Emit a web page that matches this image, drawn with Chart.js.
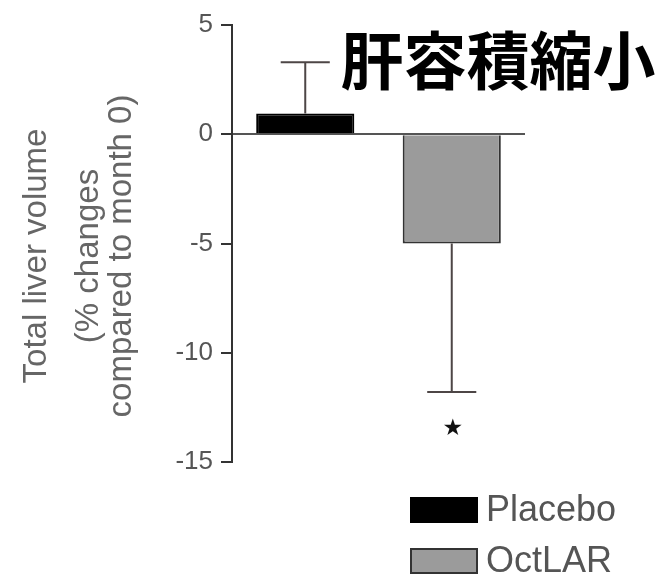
<!DOCTYPE html>
<html>
<head>
<meta charset="utf-8">
<script src="https://cdn.jsdelivr.net/npm/chart.js@4/dist/chart.umd.min.js"></script>
<style>
  body { margin: 0; background: #fff; }
  #wrap { width: 666px; height: 578px; }
</style>
</head>
<body>
<div id="wrap"><canvas id="chart1" width="666" height="578"></canvas></div>
<script>
// data
const groups = ['Placebo', 'OctLAR'];
const meanChange = [0.95, -5.0];
const errSize = [2.35, 6.8];          // one-sided error bars (away from zero)
const barColors = ['#000000', '#9b9b9b'];
const barBorders = ['#000000', '#333333'];
const yTicks = [5, 0, -5, -10, -15];
const yTitleLines = ['Total liver volume', '(% changes', 'compared to month 0)'];
const chartTitle = '肝容積縮小';
const starMark = { index: 1, value: -13.5 };

// error bars, star, legend and texts
const extras = {
    id: 'extras',
    afterDatasetsDraw(chart) {
        const ctx = chart.ctx;
        const y = chart.scales.y;
        const meta = chart.getDatasetMeta(0);
        ctx.save();
        ctx.strokeStyle = '#4d4646';
        ctx.lineWidth = 2;
        meta.data.forEach((bar, i) => {
            const v = meanChange[i];
            const end = v >= 0 ? v + errSize[i] : v - errSize[i];
            const y0 = y.getPixelForValue(v);
            const y1 = y.getPixelForValue(end);
            const half = bar.width * 0.25;
            ctx.beginPath();
            ctx.moveTo(bar.x, y0);
            ctx.lineTo(bar.x, y1);
            ctx.moveTo(bar.x - half, y1);
            ctx.lineTo(bar.x + half, y1);
            ctx.stroke();
        });
        // significance star
        const sb = meta.data[starMark.index];
        ctx.fillStyle = '#111';
        ctx.font = '23px "DejaVu Sans"';
        ctx.textAlign = 'center';
        ctx.textBaseline = 'middle';
        ctx.fillText('★', sb.x + 1, y.getPixelForValue(starMark.value));
        ctx.restore();
    },
    afterDraw(chart) {
        const ctx = chart.ctx;
        ctx.save();
        // title
        ctx.fillStyle = '#000';
        ctx.font = 'bold 63px "Noto Sans CJK JP"';
        ctx.textAlign = 'center';
        ctx.textBaseline = 'middle';
        ctx.fillText(chartTitle, 498, 60);

        // y axis title, rotated
        ctx.fillStyle = '#666';
        ctx.font = '33px "Liberation Sans"';
        const xs = [37, 89, 122];
        yTitleLines.forEach((t, i) => {
            ctx.save();
            ctx.translate(xs[i], 256);
            ctx.rotate(-Math.PI / 2);
            ctx.fillText(t, 0, 0);
            ctx.restore();
        });

        // legend
        const top = [510, 561];
        groups.forEach((g, i) => {
            ctx.fillStyle = barColors[i];
            ctx.fillRect(410, top[i] - 13, 68, 26);
            ctx.strokeStyle = barBorders[i];
            ctx.lineWidth = 2;
            ctx.strokeRect(411, top[i] - 12, 66, 24);
            ctx.fillStyle = '#555';
            ctx.font = '36px "Liberation Sans"';
            ctx.textAlign = 'left';
            ctx.fillText(g, 486, top[i] + 1);
        });
        ctx.restore();
    }
};

const ctx1 = document.getElementById('chart1').getContext('2d');
new Chart(ctx1, {
    type: 'bar',
    data: {
        labels: groups,
        datasets: [{
            data: meanChange,
            backgroundColor: barColors,
            borderColor: barBorders,
            borderWidth: 2,
            barPercentage: 0.67,
            categoryPercentage: 1
        }]
    },
    options: {
        responsive: false,
        animation: false,
        layout: { padding: { top: 25, right: 141, bottom: 116, left: 0 } },
        plugins: {
            legend: { display: false },
            tooltip: { enabled: false }
        },
        scales: {
            x: { display: false },
            y: {
                min: -15,
                max: 5,
                afterFit: function(scale) { scale.width = 232; },
                afterBuildTicks: function(scale) {
                    scale.ticks = yTicks.map(v => ({ value: v }));
                },
                border: { color: '#333', width: 2 },
                grid: {
                    drawOnChartArea: true,
                    lineWidth: 2,
                    color: c => (c.tick && c.tick.value === 0 ? '#555' : 'transparent'),
                    tickColor: '#333',
                    tickLength: 11
                },
                ticks: {
                    padding: 8,
                    color: '#555',
                    font: { family: 'Liberation Sans', size: 26 }
                }
            }
        }
    },
    plugins: [extras]
});
</script>
</body>
</html>
